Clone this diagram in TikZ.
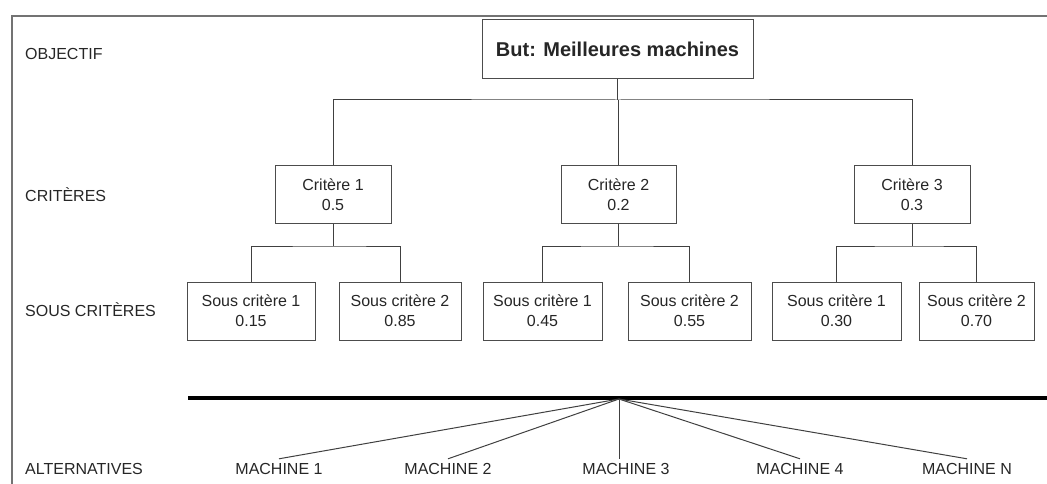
\documentclass[tikz,border=0pt]{standalone}
\usepackage{fontspec}
\setmainfont{Liberation Sans}
\begin{document}
\begin{tikzpicture}[x=1pt,y=-1pt,
  every node/.style={text=black!85},
  box/.style={draw=black!70,line width=1pt,align=center,inner sep=0pt,
    font=\fontsize{16}{20}\selectfont},
  topbox/.style={box,font=\fontsize{20}{24}\selectfont\bfseries},
  lvl/.style={anchor=base west,inner sep=0pt,font=\fontsize{16}{18}\selectfont},
  mach/.style={anchor=base,inner sep=4pt,text height=11pt,text depth=0pt,font=\fontsize{16}{18}\selectfont},
  conn/.style={draw=black!75,line width=1pt},
  frame/.style={draw=black!55,line width=2pt}
]
\useasboundingbox (0,0) rectangle (1047,484);
% frame
\draw[frame] (12,484) -- (12,16) -- (1047,16);

% level labels
\node[lvl] (lobj) at (25,60) {OBJECTIF};
\node[lvl] (lcrit) at (25,201) {CRITÈRES};
\node[lvl] (lsous) at (25,316) {SOUS CRITÈRES};
\node[lvl] (lalt) at (25,474) {ALTERNATIVES};

% goal
\node[topbox,minimum width=271pt,minimum height=59pt] (top) at (617.5,49.5) {But: Meilleures machines};

% criteria
\node[box,minimum width=116pt,minimum height=57pt] (c1) at (333,194.5) {Critère 1\\0.5};
\node[box,minimum width=115pt,minimum height=57pt] (c2) at (618.5,194.5) {Critère 2\\0.2};
\node[box,minimum width=116pt,minimum height=57pt] (c3) at (912,194.5) {Critère 3\\0.3};

% sub-criteria
\node[box,minimum width=128pt,minimum height=58pt] (s11) at (251,311) {Sous critère 1\\0.15};
\node[box,minimum width=122pt,minimum height=58pt] (s12) at (400,311) {Sous critère 2\\0.85};
\node[box,minimum width=119pt,minimum height=58pt] (s21) at (542.5,311) {Sous critère 1\\0.45};
\node[box,minimum width=123pt,minimum height=58pt] (s22) at (689.5,311) {Sous critère 2\\0.55};
\node[box,minimum width=129pt,minimum height=58pt] (s31) at (836.5,311) {Sous critère 1\\0.30};
\node[box,minimum width=115pt,minimum height=58pt] (s32) at (976.5,311) {Sous critère 2\\0.70};

% connectors goal -> criteria
\coordinate (j0) at (618,100);
\draw[conn] (top) -- (top.south |- j0);
\draw[conn] (c1) |- (j0) -| (c3);
\draw[conn] (c2) -- (c2 |- j0);

% connectors criteria -> sub-criteria
\coordinate (j1) at (333,246);
\coordinate (j2) at (618.5,246);
\coordinate (j3) at (912,246);
\draw[conn] (c1) -- (j1);
\draw[conn] (s11) |- (j1) -| (s12);
\draw[conn] (c2) -- (j2);
\draw[conn] (s21) |- (j2) -| (s22);
\draw[conn] (c3) -- (j3);
\draw[conn] (s31) |- (j3) -| (s32);

% thick separator
\coordinate (barL) at (188,398);
\coordinate (barR) at (1047,398);
\draw[black,line width=3.5pt] (barL) -- (barR);
\coordinate (hub) at (619,399);

% alternatives
\node[mach] (m1) at (279,474) {MACHINE 1};
\node[mach] (m2) at (448,474) {MACHINE 2};
\node[mach] (m3) at (626,474) {MACHINE 3};
\node[mach] (m4) at (800,474) {MACHINE 4};
\node[mach] (mn) at (967,474) {MACHINE N};

\draw[conn] (hub) -- (m1.north);
\draw[conn] (hub) -- (m2.north);
\draw[conn] (hub) -- (hub |- m3.north);
\draw[conn] (hub) -- (m4.north);
\draw[conn] (hub) -- (mn.north);
\end{tikzpicture}
\end{document}
